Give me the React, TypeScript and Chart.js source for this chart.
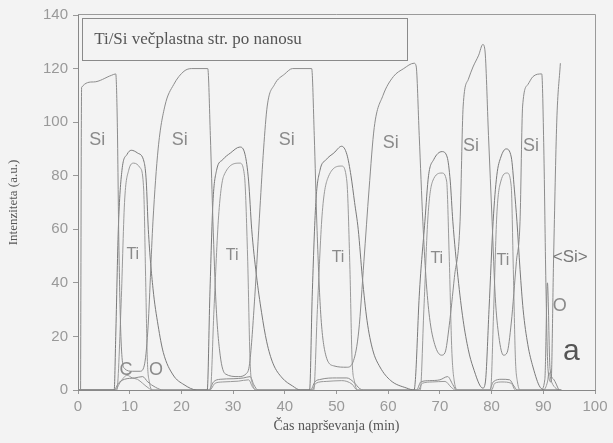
import React, { useEffect, useRef } from "react";
import { Chart, registerables } from "chart.js";

Chart.register(...registerables);

// ---------- data ----------
const siX = [0.5, 0.7, 3, 6.5, 7.3, 7.6, 7.9, 8.3, 9, 10.5, 12, 12.8, 13.5, 14.5, 15.5, 16.8, 18.5, 20.5, 22, 25.1, 25.6, 26.1, 26.7, 27.5, 28.5, 31, 32.5, 33.2, 34.2, 35.2, 35.9, 36.6, 38, 40, 41.5, 45.2, 45.7, 46.2, 46.9, 47.8, 49.5, 52, 53.3, 54.3, 55.3, 56.3, 57.3, 59, 61, 63, 65, 65.4, 66, 66.7, 67.3, 68, 69, 70.3, 71, 71.8, 72.8, 73.9, 74.5, 75.5, 76.4, 77.5, 78.3, 78.7, 79.4, 80.1, 80.7, 81.4, 82.3, 83, 83.8, 84.8, 85.5, 86, 87, 88, 89.7, 90.1, 90.5, 90.9, 91.5, 92, 92.6, 93.3];
const siY = [0, 113, 115, 117.5, 118, 100, 55, 20, 8, 7, 7, 9, 22, 63, 90, 106, 114, 119, 120, 120, 95, 63, 32, 13, 6, 5, 6, 10, 35, 68, 90, 106, 114, 118, 120, 120, 95, 62, 30, 14, 9, 8.5, 11, 22, 48, 75, 98, 110, 117, 120, 122, 121, 95, 63, 42, 27, 17, 13, 14, 24, 42, 63, 106, 116, 120.6, 125, 129, 127, 95, 63, 35, 20, 13, 14, 25, 48, 63, 106, 114, 117, 118, 90, 40, 8, 3, 50, 100, 122];

const tiX = [0, 7.0, 7.3, 7.8, 8.5, 9.5, 10.3, 11.5, 12.8, 13.2, 13.6, 14.5, 15.5, 16.5, 18.4, 20.5, 23, 25.0, 25.5, 26.1, 26.8, 28, 29.5, 31.3, 32.3, 33, 33.6, 34.5, 35.5, 36.5, 37.7, 39.5, 41.5, 43, 44.8, 45.3, 46, 46.8, 48, 49.5, 51, 52, 52.8, 53.5, 54.2, 55, 55.9, 57, 58.4, 60.5, 63.6, 65, 65.3, 66, 67.1, 67.8, 68.8, 70.4, 71.4, 72, 72.5, 73.5, 74.5, 75.5, 76.4, 78.3, 78.8, 79.5, 80.3, 81, 81.8, 82.8, 83.8, 84.4, 84.9, 85.5, 86.1, 87, 88, 89.4, 90.5, 93.5];
const tiY = [0, 0, 20, 60, 82, 88, 89.5, 88.5, 85, 78, 60, 38, 24, 14, 5.6, 2, 0, 0, 35, 70, 82, 86, 88.5, 90.7, 88, 78, 60, 43, 29, 18, 10, 4.5, 1.5, 0, 0, 35, 70, 82, 86, 88.5, 91, 88, 80, 70, 60, 42, 26, 15, 8.6, 3.5, 0.7, 0, 5, 35, 63, 80, 86, 89, 87, 78, 63, 42, 26, 15, 8.6, 0.7, 3, 30, 63, 80, 87, 90, 87, 75, 63, 45, 30, 17, 8.6, 1, 0, 0];

const ti2X = [0, 7.5, 8.3, 9.0, 9.8, 10.8, 12, 12.7, 13.1, 13.4, 13.8, 14.5, 25.6, 26.3, 27.2, 28.2, 31.3, 32.2, 32.8, 33.3, 33.8, 34.5, 45.6, 46.3, 47.2, 48.3, 51, 52, 52.6, 53, 53.5, 54.2, 66.2, 66.9, 67.7, 68.6, 70.4, 71.3, 71.8, 72.3, 72.8, 73.5, 79.8, 80.4, 81, 81.8, 83, 83.8, 84.2, 84.6, 85, 85.6, 93.5];
const ti2Y = [0, 0, 30, 70, 82, 84.7, 83, 75, 40, 12, 3, 0, 0, 30, 65, 80, 84.7, 80, 50, 10, 2, 0, 0, 30, 65, 79, 83.6, 78, 45, 12, 3, 0, 0, 30, 65, 78, 81, 78, 50, 15, 3, 0, 0, 30, 65, 78, 81, 76, 45, 12, 3, 0, 0];

const oX = [0, 7.0, 7.8, 9, 11, 12.5, 13.5, 15, 16.5, 25.3, 26.2, 27.5, 30, 32, 33.3, 34, 34.8, 45, 45.8, 47, 50, 52, 53.3, 54.5, 55.2, 65.5, 66.3, 68, 70, 71.5, 72.5, 73.2, 79.6, 80.3, 82, 83.5, 84.3, 85, 89.5, 90.3, 90.8, 91.3, 92, 93];
const oY = [0, 0, 2.5, 4, 4.5, 5, 3, 1, 0, 0, 3, 4, 4.2, 4.5, 5, 2, 0, 0, 3, 4, 4.5, 4.5, 3, 0.5, 0, 0, 3, 3.5, 3.8, 5, 2, 0, 0, 3, 4, 3.8, 1.5, 0, 0, 4, 40, 8, 4, 0];

const cX = [0, 7.2, 8.2, 9.5, 10.5, 11.5, 12.5, 13.8, 14.5, 25.5, 26.5, 28, 31, 33, 33.8, 34.5, 45.3, 46, 48, 51, 53, 54, 65.8, 66.6, 68.5, 71, 72.2, 73, 80, 80.6, 82, 83.8, 84.6, 90, 90.8, 91.1, 91.6, 92.5, 93.3];
const cY = [0, 0, 3, 5.5, 4.5, 4, 2.5, 0.5, 0, 0, 2.5, 3, 3.3, 3.8, 1, 0, 0, 2.5, 3.2, 3.5, 2.2, 0, 0, 2.5, 3, 3.2, 1, 0, 0, 2.5, 3, 2.5, 0, 0, 3, 6.5, 3, 0.5, 0];

const xTicksMin = 0;
const xTicksMax = 100;
const yTicksMin = 0;
const yTicksMax = 140;

const chartTitle = "Ti/Si večplastna str. po nanosu";
const xTitle = "Čas naprševanja (min)";
const yTitle = "Intenziteta (a.u.)";

// annotation texts (data coordinates)
const noteTexts = ["Si", "Si", "Si", "Si", "Si", "Si", "Ti", "Ti", "Ti", "Ti", "Ti", "<Si>", "O", "C", "O", "a"];
const noteX = [3.7, 19.7, 40.4, 60.5, 76.0, 87.6, 10.6, 29.8, 50.3, 69.4, 82.2, 95.2, 93.2, 9.3, 15.1, 95.4];
const noteY = [93.3, 93.3, 93.3, 92.2, 91.0, 91.0, 50.4, 50.0, 49.6, 48.9, 48.2, 49.6, 31.4, 7.5, 7.5, 14.2];

const pts = (xs: number[], ys: number[]) => xs.map((x, i) => ({ x, y: ys[i] }));

const SANS = "'Liberation Sans', Arial, sans-serif";
const SERIF = "'Liberation Serif', 'DejaVu Serif', serif";

const decor = {
  id: "decor",
  beforeDraw(chart: any) {
    const { ctx, width, height } = chart;
    ctx.save();
    ctx.fillStyle = "#f3f3f3";
    ctx.fillRect(0, 0, width, height);
    ctx.restore();
  },
  afterDraw(chart: any) {
    const { ctx, chartArea: a, scales } = chart;
    const xs = scales.x;
    const ys = scales.y;
    ctx.save();
    ctx.strokeStyle = "#9a9a9a";
    ctx.lineWidth = 1;
    ctx.beginPath();
    ctx.moveTo(a.left, Math.round(a.top) - 0.5);
    ctx.lineTo(Math.round(a.right) + 0.5, Math.round(a.top) - 0.5);
    ctx.lineTo(Math.round(a.right) + 0.5, a.bottom);
    ctx.stroke();

    // title box
    const bx0 = xs.getPixelForValue(0.8);
    const bx1 = xs.getPixelForValue(63.6);
    const by0 = ys.getPixelForValue(139);
    const by1 = ys.getPixelForValue(123.5);
    ctx.strokeStyle = "#8a8a8a";
    ctx.strokeRect(Math.round(bx0) + 0.5, Math.round(by0) + 0.5, Math.round(bx1 - bx0), Math.round(by1 - by0));
    ctx.fillStyle = "#555";
    ctx.font = "17px " + SERIF;
    ctx.textBaseline = "middle";
    ctx.textAlign = "left";
    ctx.fillText(chartTitle, bx0 + 12, (by0 + by1) / 2 + 1);

    // notes
    ctx.textAlign = "center";
    noteTexts.forEach((t, i) => {
      const px = xs.getPixelForValue(noteX[i]);
      const py = ys.getPixelForValue(noteY[i]);
      if (t === "a") {
        ctx.font = "30px " + SANS;
        ctx.fillStyle = "#555";
      } else if (t === "Ti") {
        ctx.font = "16px " + SANS;
        ctx.fillStyle = "#8a8a8a";
      } else if (t === "<Si>") {
        ctx.font = "17px " + SANS;
        ctx.fillStyle = "#777";
      } else {
        ctx.font = "18px " + SANS;
        ctx.fillStyle = "#8a8a8a";
      }
      ctx.fillText(t, px, py);
    });
    ctx.restore();
  },
};

export default function App() {
  const ref = useRef<HTMLCanvasElement | null>(null);
  useEffect(() => {
    document.body.style.margin = "0";
    document.body.style.background = "#f3f3f3";
    const line = (data: any[], color: string) => ({
      data,
      borderColor: color,
      borderWidth: 1,
      pointRadius: 0,
      fill: false,
      cubicInterpolationMode: "monotone" as const,
    });
    const chart = new Chart(ref.current as HTMLCanvasElement, {
      type: "line",
      data: {
        datasets: [
          { label: "Si", ...line(pts(siX, siY), "#8c8c8c") },
          { label: "Ti", ...line(pts(tiX, tiY), "#7a7a7a") },
          { label: "Ti2", ...line(pts(ti2X, ti2Y), "#9a9a9a") },
          { label: "O", ...line(pts(oX, oY), "#8c8c8c") },
          { label: "C", ...line(pts(cX, cY), "#9a9a9a") },
        ],
      },
      options: {
        animation: false,
        responsive: false,
        devicePixelRatio: 1,
        layout: { padding: { top: 15, right: 18, left: 0, bottom: 0 } },
        plugins: { legend: { display: false }, tooltip: { enabled: false }, title: { display: false } },
        scales: {
          x: {
            type: "linear",
            min: xTicksMin,
            max: xTicksMax,
            ticks: { stepSize: 10, color: "#999", font: { family: SANS, size: 15 }, padding: 4, maxRotation: 0 },
            grid: { display: true, drawOnChartArea: false, drawTicks: true, tickLength: 4, color: "#999" },
            border: { display: true, color: "#888" },
            title: { display: true, text: xTitle, color: "#555", font: { family: SERIF, size: 14 }, padding: { top: 0, bottom: 8 } },
            afterFit: (s: any) => { s.height = 53; },
          },
          y: {
            min: yTicksMin,
            max: yTicksMax,
            ticks: { stepSize: 20, color: "#999", font: { family: SANS, size: 15 }, padding: 5 },
            grid: { display: true, drawOnChartArea: false, drawTicks: true, tickLength: 5, color: "#999" },
            border: { display: true, color: "#888" },
            title: { display: true, text: yTitle, color: "#555", font: { family: SERIF, size: 13 }, padding: { top: 6, bottom: 0 } },
            afterFit: (s: any) => { s.width = 78; },
          },
        },
      },
      plugins: [decor],
    });
    return () => chart.destroy();
  }, []);
  return (
    <div style={{ position: "fixed", left: 0, top: 0, width: 613, height: 443, background: "#f3f3f3" }}>
      <canvas ref={ref} width={613} height={443} style={{ display: "block", width: 613, height: 443 }} />
    </div>
  );
}
